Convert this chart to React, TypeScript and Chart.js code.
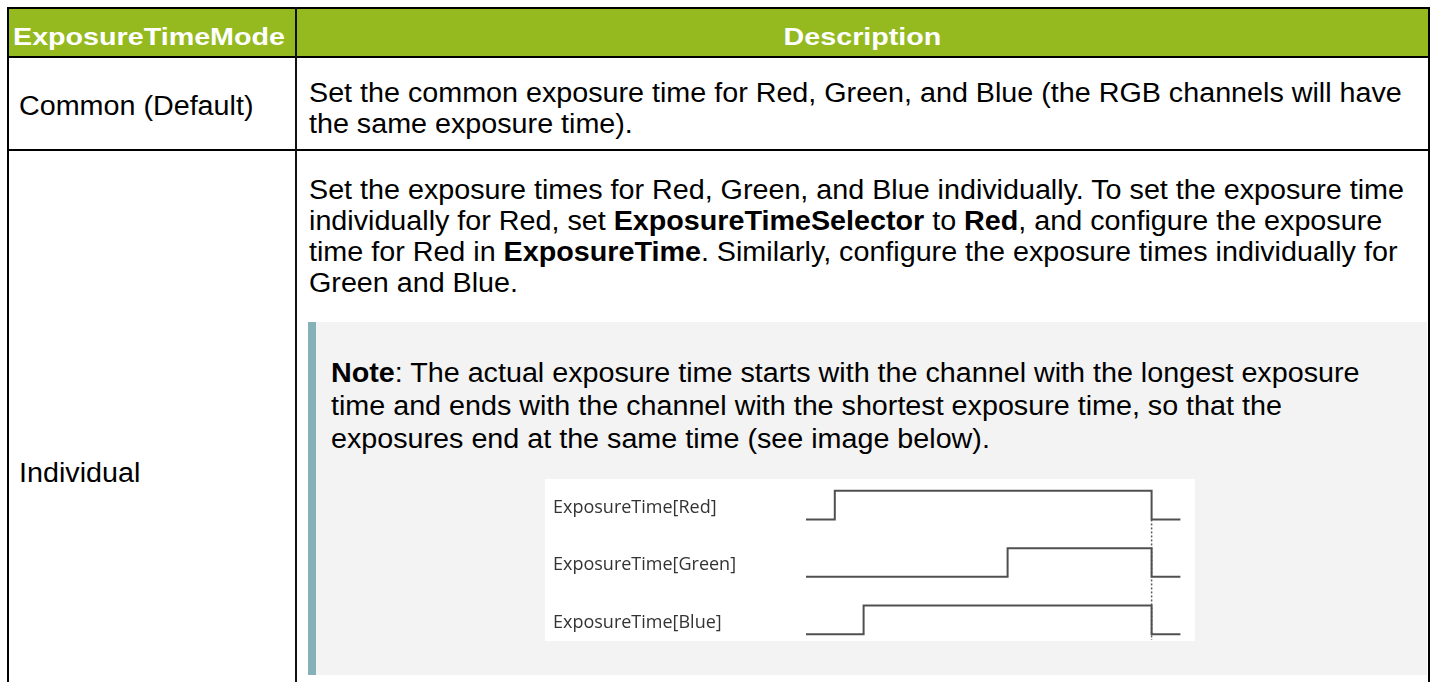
import React, { useEffect, useRef } from "react";
import { Chart, registerables } from "chart.js";

Chart.register(...registerables);

// ---------- data ----------
const headerLabels = ["ExposureTimeMode", "Description"];
const modeLabels = ["Common (Default)", "Individual"];
const commonLines = [
  "Set the common exposure time for Red, Green, and Blue (the RGB channels will have",
  "the same exposure time).",
];
const individualLines = [
  "Set the exposure times for Red, Green, and Blue individually. To set the exposure time",
  "individually for Red, set **ExposureTimeSelector** to **Red**, and configure the exposure",
  "time for Red in **ExposureTime**. Similarly, configure the exposure times individually for",
  "Green and Blue.",
];
const noteLines = [
  "**Note**: The actual exposure time starts with the channel with the longest exposure",
  "time and ends with the channel with the shortest exposure time, so that the",
  "exposures end at the same time (see image below).",
];

const channelLabels = ["ExposureTime[Red]", "ExposureTime[Green]", "ExposureTime[Blue]"];
const redTimes = [0, 1, 1, 12, 12, 13];
const redLevels = [0, 0, 1, 1, 0, 0];
const greenTimes = [0, 7, 7, 12, 12, 13];
const greenLevels = [0, 0, 1, 1, 0, 0];
const blueTimes = [0, 2, 2, 12, 12, 13];
const blueLevels = [0, 0, 1, 1, 0, 0];
const exposureEndTime = 12;

// ---------- text helpers ----------
const FONT = '"Liberation Sans", Arial, Helvetica, sans-serif';

function renderMarked(s: string) {
  const parts = s.split("**");
  return parts.map((p, i) =>
    i % 2 === 1 ? (
      <b key={i}>{p}</b>
    ) : (
      <span key={i}>{p}</span>
    )
  );
}

function TextLines(props: {
  x: number;
  baseline: number;
  lines: string[];
  fs: number;
  lh: number;
  sx: number;
  color?: string;
}) {
  const { x, baseline, lines, fs, lh, sx, color } = props;
  const top = baseline - (lh - 1.117 * fs) / 2 - 0.905 * fs;
  return (
    <div
      style={{
        position: "absolute",
        left: x,
        top,
        fontFamily: FONT,
        fontSize: fs,
        lineHeight: lh + "px",
        whiteSpace: "nowrap",
        transform: `scaleX(${sx})`,
        transformOrigin: "left top",
        color: color || "#000",
      }}
    >
      {lines.map((l, i) => (
        <div key={i}>{renderMarked(l)}</div>
      ))}
    </div>
  );
}

// ---------- timing chart ----------
function TimingChart() {
  const ref = useRef<HTMLCanvasElement | null>(null);
  useEffect(() => {
    if (!ref.current) return;
    const laneBase = [4, 2, 0];
    const labelOffset = 0.4;
    const series = [
      { t: redTimes, v: redLevels },
      { t: greenTimes, v: greenLevels },
      { t: blueTimes, v: blueLevels },
    ];
    const lineColor = "#505050";
    const datasets: any[] = series.map((s, k) => ({
      label: channelLabels[k],
      data: s.t.map((t, i) => ({ x: t, y: s.v[i] + laneBase[k] })),
      borderColor: lineColor,
      borderWidth: 2,
      pointRadius: 0,
      fill: false,
      tension: 0,
      clip: false,
    }));
    datasets.push({
      label: "end",
      data: [
        { x: exposureEndTime, y: laneBase[0] },
        { x: exposureEndTime, y: -0.2 },
      ],
      borderColor: "#5a5a5a",
      borderWidth: 1.5,
      borderDash: [2, 2],
      pointRadius: 0,
      fill: false,
      clip: false,
    });
    const chart = new Chart(ref.current, {
      type: "line",
      data: { datasets },
      options: {
        animation: false,
        responsive: false,
        devicePixelRatio: 1,
        layout: { padding: { left: 8, right: 14.6, top: 6, bottom: 1 } },
        plugins: { legend: { display: false }, tooltip: { enabled: false } },
        scales: {
          x: { type: "linear", min: 0, max: 13, display: false },
          y: {
            type: "linear",
            min: -0.2,
            max: 5.2,
            grid: { display: false, drawTicks: false },
            border: { display: false },
            afterFit: (scale: any) => {
              scale.width = 253;
              scale.paddingTop = 0;
              scale.paddingBottom = 0;
            },
            afterBuildTicks: (scale: any) => {
              scale.ticks = laneBase.map((b) => ({ value: b + labelOffset }));
            },
            ticks: {
              crossAlign: "far",
              padding: 0,
              color: "#333333",
              font: { family: '"Open Sans", sans-serif', size: 18 },
              callback: (_v: any, i: number) => channelLabels[i],
            },
          },
        },
      } as any,
    });
    return () => chart.destroy();
  }, []);
  return (
    <canvas
      ref={ref}
      width={650}
      height={162}
      style={{ position: "absolute", left: 545, top: 479, width: 650, height: 162, background: "#fff" }}
    />
  );
}

// ---------- page ----------
export default function App() {
  const green = "#94ba20";
  const bodyFs = 27;
  const bodySx = 1.063;
  const hFs = 24;
  const hSx = 1.195;
  const hTop = 45.5 - (32 - 1.117 * hFs) / 2 - 0.905 * hFs;
  return (
    <div
      style={{
        position: "absolute",
        left: 0,
        top: 0,
        width: 1435,
        height: 682,
        overflow: "hidden",
        background: "#fff",
      }}
    >
      {/* header background */}
      <div style={{ position: "absolute", left: 7, top: 7, width: 1423, height: 50, background: green }} />
      {/* outer borders */}
      <div style={{ position: "absolute", left: 7, top: 7, width: 1423, height: 2, background: "#000" }} />
      <div style={{ position: "absolute", left: 7, top: 7, width: 2, height: 700, background: "#000" }} />
      <div style={{ position: "absolute", left: 1428, top: 7, width: 2, height: 700, background: "#000" }} />
      {/* header bottom */}
      <div style={{ position: "absolute", left: 7, top: 56, width: 1423, height: 2, background: "#000" }} />
      {/* row separator */}
      <div style={{ position: "absolute", left: 7, top: 149, width: 1423, height: 2, background: "#000" }} />
      {/* column divider */}
      <div style={{ position: "absolute", left: 295, top: 7, width: 2, height: 700, background: "#111" }} />

      {/* header texts */}
      <div
        style={{
          position: "absolute",
          left: 13,
          top: hTop,
          fontFamily: FONT,
          fontWeight: "bold",
          fontSize: hFs,
          lineHeight: "32px",
          color: "#fff",
          whiteSpace: "nowrap",
          transform: `scaleX(${hSx})`,
          transformOrigin: "left top",
        }}
      >
        {headerLabels[0]}
      </div>
      <div
        style={{
          position: "absolute",
          left: 297,
          width: 1131,
          top: hTop,
          fontFamily: FONT,
          fontWeight: "bold",
          fontSize: hFs,
          lineHeight: "32px",
          color: "#fff",
          textAlign: "center",
          whiteSpace: "nowrap",
          transform: `scaleX(${hSx})`,
          transformOrigin: "50% 0",
        }}
      >
        {headerLabels[1]}
      </div>

      {/* row 1 */}
      <TextLines x={19} baseline={116} lines={[modeLabels[0]]} fs={bodyFs} lh={31} sx={bodySx} />
      <TextLines x={309} baseline={102.5} lines={commonLines} fs={bodyFs} lh={31} sx={bodySx} />

      {/* row 2 */}
      <TextLines x={19} baseline={483} lines={[modeLabels[1]]} fs={bodyFs} lh={31} sx={bodySx} />
      <TextLines x={309} baseline={200} lines={individualLines} fs={bodyFs} lh={31} sx={bodySx} />

      {/* note box */}
      <div style={{ position: "absolute", left: 308, top: 322, width: 1119, height: 353, background: "#f3f3f3" }} />
      <div style={{ position: "absolute", left: 308, top: 322, width: 8, height: 353, background: "#87b1b8" }} />
      <TextLines x={331} baseline={383} lines={noteLines} fs={bodyFs} lh={33} sx={bodySx} />

      <TimingChart />
    </div>
  );
}
